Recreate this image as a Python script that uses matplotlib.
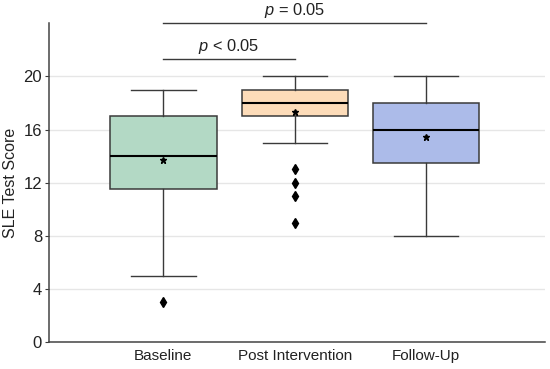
import matplotlib
matplotlib.use("Agg")
import matplotlib.pyplot as plt

plt.rcParams['font.family'] = ['Liberation Sans', 'DejaVu Sans']
plt.rcParams['mathtext.fontset'] = 'custom'
plt.rcParams['mathtext.it'] = 'Liberation Sans:italic'
plt.rcParams['mathtext.rm'] = 'Liberation Sans'

categories = ["Baseline", "Post Intervention", "Follow-Up"]
whislo = [5, 15, 8]
q1 = [11.5, 17, 13.5]
med = [14, 18, 16]
q3 = [17, 19, 18]
whishi = [19, 20, 20]
means = [13.7, 17.3, 15.4]
fliers = [[3], [13, 12, 11, 9], []]
colors = ["#b3d9c5", "#fddcb9", "#acbbe9"]
yticks = [0, 4, 8, 12, 16, 20]

fig, ax = plt.subplots(figsize=(5.5, 3.69), dpi=100)
fig.subplots_adjust(left=0.089, right=0.99, bottom=0.073, top=0.937)

stats = []
for i, c in enumerate(categories):
    stats.append(dict(label=c, whislo=whislo[i], q1=q1[i], med=med[i], q3=q3[i],
                      whishi=whishi[i], mean=means[i], fliers=fliers[i]))

edge = "#3a3a3a"
bp = ax.bxp(stats, positions=range(3), widths=0.81, patch_artist=True,
            showmeans=True, showfliers=True,
            boxprops=dict(edgecolor=edge, linewidth=1.1),
            whiskerprops=dict(color=edge, linewidth=1.0),
            capprops=dict(color=edge, linewidth=1.0),
            medianprops=dict(color="black", linewidth=1.5),
            meanprops=dict(marker="*", markerfacecolor="black", markeredgecolor="black", markersize=4.5),
            flierprops=dict(marker="d", markerfacecolor="black", markeredgecolor="black", markersize=5.5),
            capwidths=0.49, zorder=3)
for patch, col in zip(bp['boxes'], colors):
    patch.set_facecolor(col)

ax.set_xlim(-0.87, 2.9)
ax.set_ylim(0, 24)
ax.set_yticks(yticks)
ax.set_yticklabels([str(t) for t in yticks], fontsize=12, color="#222222")
ax.set_xticks(range(3))
ax.set_xticklabels(categories, fontsize=11, color="#222222")
ax.tick_params(axis='x', length=0, pad=5)
ax.tick_params(axis='y', length=3, color=edge, pad=2)
ax.grid(axis='y', color="#e6e6e6", linewidth=1.0, zorder=0)
ax.set_axisbelow(True)
for s in ['top', 'right']:
    ax.spines[s].set_visible(False)
for s in ['left', 'bottom']:
    ax.spines[s].set_color("#444444")
    ax.spines[s].set_linewidth(1.1)
ax.set_ylabel("SLE Test Score", fontsize=11.5, labelpad=4, color="#222222")

# significance brackets
ax.plot([0, 1], [21.3, 21.3], color=edge, linewidth=1.0, clip_on=False)
ax.text(0.5, 21.55, r"$\it{p}$ < 0.05", ha='center', va='bottom', fontsize=11.8, color="#222222")
ax.plot([0, 2], [24.0, 24.0], color=edge, linewidth=1.0, clip_on=False)
ax.text(1.0, 24.25, r"$\it{p}$ = 0.05", ha='center', va='bottom', fontsize=11.8, color="#222222")

fig.savefig("out.png", dpi=100)
